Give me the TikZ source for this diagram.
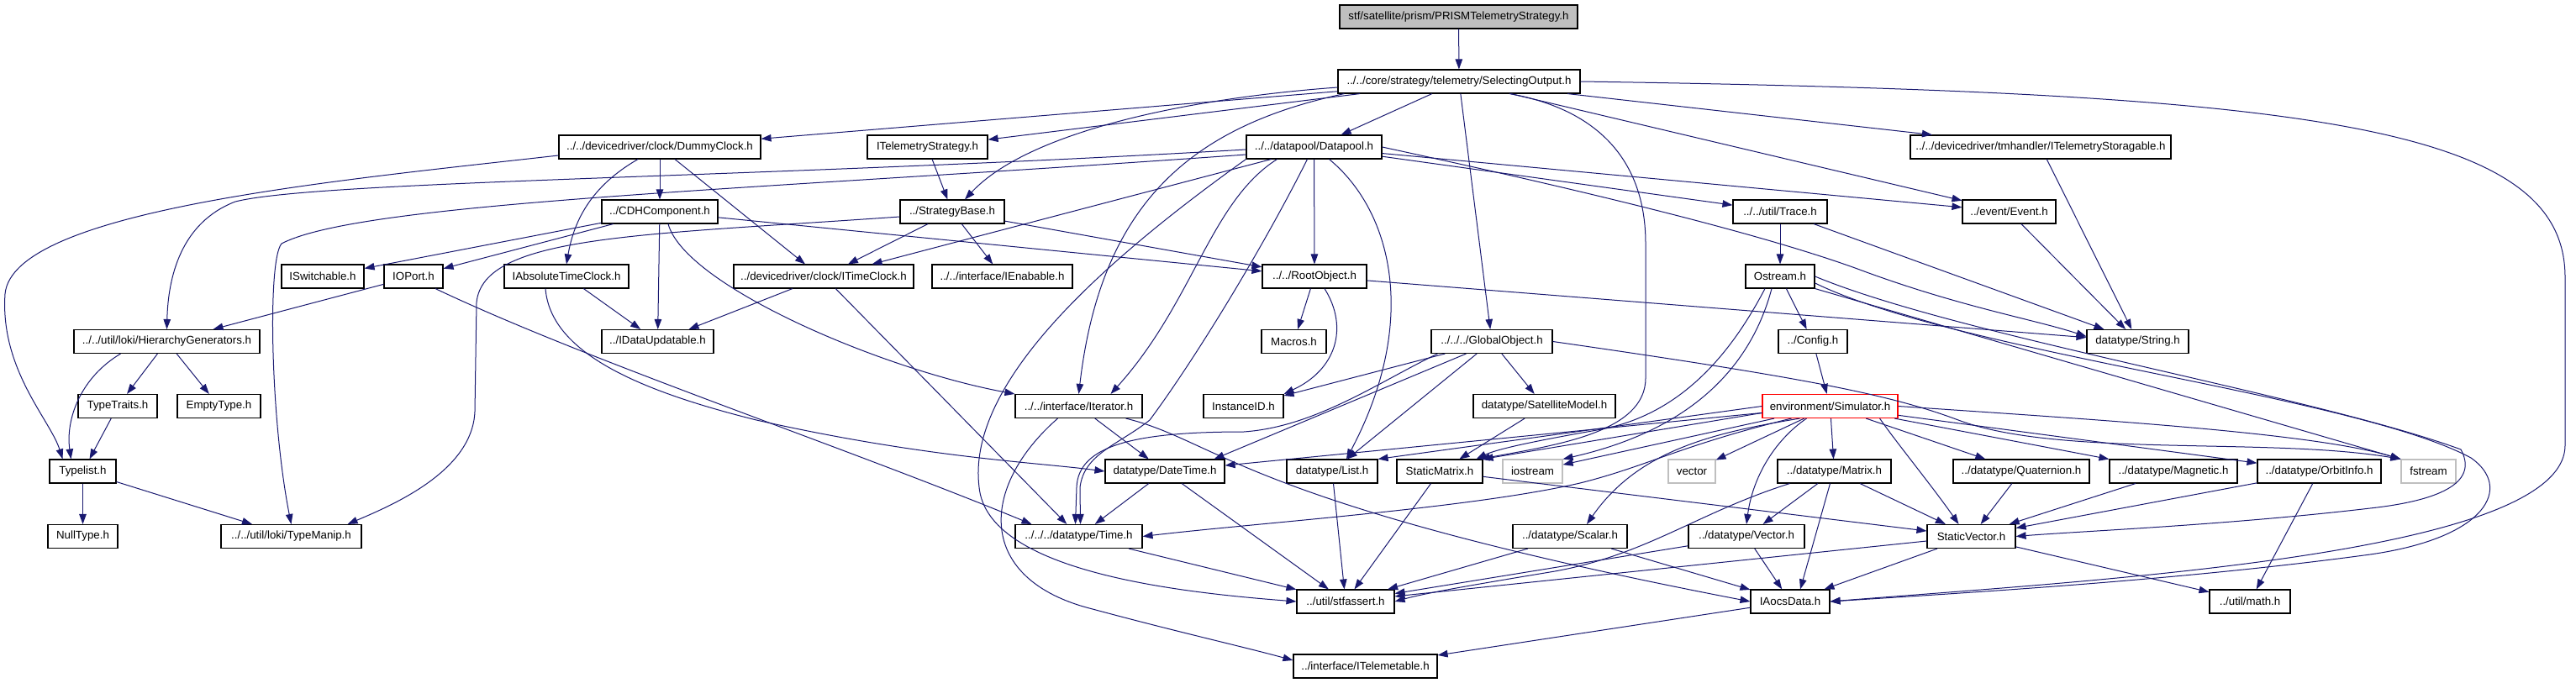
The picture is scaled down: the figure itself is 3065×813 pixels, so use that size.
\documentclass[tikz,border=0pt]{standalone}
\usepackage{fontspec}
\setmainfont{Liberation Sans}
\usetikzlibrary{arrows.meta,calc}
\definecolor{edgec}{HTML}{191970}
\definecolor{boxgray}{HTML}{BFBFBF}
\newcommand\nf{\fontsize{13.3}{16}\selectfont}
\begin{document}
\begin{tikzpicture}[x=1pt,y=-1pt,
  box/.style={draw=black,line width=1.1pt,fill=white,inner sep=0pt,minimum height=28pt,font=\nf},
  lnk/.style={draw=edgec,line width=1pt,-{Triangle[length=12pt,width=8.5pt]}}]
\fill[white] (0,0) rectangle (3065,813);
\useasboundingbox (0,0) rectangle (3065,813);
% row 0-1
\node[box,minimum width=283pt,fill=boxgray] (top) at (1735.5,20) {stf/satellite/prism/PRISMTelemetryStrategy.h};
\node[box,minimum width=288pt] (sel) at (1736,97) {../../core/strategy/telemetry/SelectingOutput.h};
% row 2
\node[box,minimum width=240pt] (dummy) at (785,175) {../../devicedriver/clock/DummyClock.h};
\node[box,minimum width=143pt] (itstrat) at (1103.5,175) {ITelemetryStrategy.h};
\node[box,minimum width=161pt] (datapool) at (1563.5,175) {../../datapool/Datapool.h};
\node[box,minimum width=310pt] (itstor) at (2428,175) {../../devicedriver/tmhandler/ITelemetryStoragable.h};
% row 3
\node[box,minimum width=138pt] (cdh) at (785,252) {../CDHComponent.h};
\node[box,minimum width=124pt] (strat) at (1133,252) {../StrategyBase.h};
\node[box,minimum width=112pt] (trace) at (2118,252) {../../util/Trace.h};
\node[box,minimum width=111pt] (event) at (2390.5,252) {../event/Event.h};
% row 4
\node[box,minimum width=98pt] (iswitch) at (384,329) {ISwitchable.h};
\node[box,minimum width=70pt] (ioport) at (492,329) {IOPort.h};
\node[box,minimum width=148pt] (iabs) at (674,329) {IAbsoluteTimeClock.h};
\node[box,minimum width=214pt] (itime) at (980,329) {../devicedriver/clock/ITimeClock.h};
\node[box,minimum width=167pt] (ienab) at (1192.5,329) {../../interface/IEnabable.h};
\node[box,minimum width=124pt] (root) at (1564,329) {../../RootObject.h};
\node[box,minimum width=82pt] (ostream) at (2118,329) {Ostream.h};
% row 5
\node[box,minimum width=221pt] (hier) at (198.5,406.5) {../../util/loki/HierarchyGenerators.h};
\node[box,minimum width=133pt] (idata) at (782.5,406.5) {../IDataUpdatable.h};
\node[box,minimum width=77pt] (macros) at (1539.5,406.5) {Macros.h};
\node[box,minimum width=144pt] (global) at (1775,406.5) {../../../GlobalObject.h};
\node[box,minimum width=82pt] (config) at (2157,406.5) {../Config.h};
\node[box,minimum width=121pt] (string) at (2543.5,406.5) {datatype/String.h};
% row 6
\node[box,minimum width=94pt] (ttraits) at (140,483.5) {TypeTraits.h};
\node[box,minimum width=99pt] (empty) at (260.5,483.5) {EmptyType.h};
\node[box,minimum width=151pt] (iter) at (1283.5,483.5) {../../interface/Iterator.h};
\node[box,minimum width=95pt] (instid) at (1479.5,483.5) {InstanceID.h};
\node[box,minimum width=169pt] (satmodel) at (1837.5,483.5) {datatype/SatelliteModel.h};
\node[box,minimum width=161pt,draw=red] (sim) at (2177.5,483.5) {environment/Simulator.h};
% row 7
\node[box,minimum width=79pt] (typelist) at (98.5,561) {Typelist.h};
\node[box,minimum width=142pt] (datetime) at (1386,561) {datatype/DateTime.h};
\node[box,minimum width=108pt] (list) at (1585,561) {datatype/List.h};
\node[box,minimum width=102pt] (smatrix) at (1713,561) {StaticMatrix.h};
\node[box,minimum width=71pt,draw=boxgray] (iostream) at (1823.5,561) {iostream};
\node[box,minimum width=56pt,draw=boxgray] (vector) at (2013,561) {vector};
\node[box,minimum width=135pt] (matrix) at (2182.5,561) {../datatype/Matrix.h};
\node[box,minimum width=162pt] (quat) at (2405,561) {../datatype/Quaternion.h};
\node[box,minimum width=152pt] (magn) at (2586,561) {../datatype/Magnetic.h};
\node[box,minimum width=147pt] (orbit) at (2759.5,561) {../datatype/OrbitInfo.h};
\node[box,minimum width=65pt,draw=boxgray] (fstream) at (2889.5,561) {fstream};
% row 8
\node[box,minimum width=83pt] (nulltype) at (98.5,638.5) {NullType.h};
\node[box,minimum width=167pt] (typemanip) at (346.5,638.5) {../../util/loki/TypeManip.h};
\node[box,minimum width=151pt] (time) at (1283.5,638.5) {../../../datatype/Time.h};
\node[box,minimum width=136pt] (scalar) at (1868,638.5) {../datatype/Scalar.h};
\node[box,minimum width=138pt] (vectorh) at (2078,638.5) {../datatype/Vector.h};
\node[box,minimum width=105pt] (svector) at (2345.5,638.5) {StaticVector.h};
% row 9-10
\node[box,minimum width=116pt] (stfassert) at (1601,716) {../util/stfassert.h};
\node[box,minimum width=94pt] (iaocs) at (2130,716) {IAocsData.h};
\node[box,minimum width=96pt] (math) at (2677,716) {../util/math.h};
\node[box,minimum width=171pt] (itlm) at (1624.5,793) {../interface/ITelemetable.h};

% ---- edges ----
\draw[lnk] (top) -- (sel);
% SelectingOutput
\draw[lnk] (sel) -- (dummy);
\draw[lnk] (sel) -- (itstrat);
\draw[lnk] ($(sel.west)+(0,7)$) .. controls (1400,118) and (1220,160) .. ($(strat.north)+(15,0)$);
\draw[lnk] (sel) -- (datapool);
\draw[lnk] (sel) -- (itstor);
\draw[lnk] (sel) -- (global);
\draw[lnk] (sel) -- (event);
\draw[lnk] (sel.east) .. controls (2750,110) and (3052,150) .. (3052,330) -- (3052,530) .. controls (3052,660) and (2500,690) .. (iaocs.east);
\draw[lnk] ($(sel.south west)+(8,0)$) .. controls (1420,150) and (1310,240) .. (iter.north);
\draw[lnk] ($(sel.south)+(60,0)$) .. controls (1900,130) and (1958,190) .. (1958,290) -- (1958,450) .. controls (1958,515) and (1850,530) .. ($(smatrix.north east)+(-4,0)$);
% Datapool
\draw[lnk] (datapool) -- (trace);
\draw[lnk] (datapool) -- (event);
\draw[lnk] (datapool.east) .. controls (1900,230) and (2100,280) .. (2210,320) .. controls (2330,365) and (2420,380) .. ($(string.west)+(0,-6)$);
\draw[lnk] (datapool) -- (root);
\draw[lnk] ($(datapool.south)+(18,0)$) .. controls (1655,250) and (1690,380) .. ($(list.north)+(17,0)$);
\draw[lnk] ($(datapool.south west)+(37,0)$) .. controls (1440,240) and (1420,360) .. ($(iter.north)+(38,0)$);
\draw[lnk] ($(datapool.south west)+(30,0)$) -- ($(itime.north east)+(-50,0)$);
\draw[lnk] (datapool.south west) .. controls (1300,320) and (1150,460) .. (1165,580) .. controls (1175,680) and (1400,705) .. (stfassert.west);
\draw[lnk] ($(datapool.south)+(-8,0)$) .. controls (1500,300) and (1420,430) .. (1368,500) .. controls (1330,530) and (1290,540) .. (1285,580) -- ($(time.north)+(2,0)$);
\draw[lnk] ($(datapool.west)+(0,3)$) .. controls (900,212) and (380,215) .. (280,240) .. controls (215,265) and (200,330) .. (hier.north);
\draw[lnk] ($(datapool.west)+(0,9)$) .. controls (900,226) and (430,240) .. (335,290) .. controls (318,310) and (322,500) .. (typemanip.north);
% DummyClock
\draw[lnk] (dummy) -- (cdh);
\draw[lnk] ($(dummy.south)+(-26,0)$) .. controls (715,215) and (685,250) .. (iabs.north);
\draw[lnk] ($(dummy.south)+(18,0)$) -- ($(itime.north)+(-22,0)$);
\draw[lnk] ($(dummy.west)+(0,10)$) .. controls (400,215) and (15,250) .. (6,350) .. controls (0,440) and (60,500) .. ($(typelist.north)+(-24,0)$);
% CDHComponent
\draw[lnk] (cdh) -- (iswitch);
\draw[lnk] (cdh) -- (ioport);
\draw[lnk] (cdh) -- (idata);
\draw[lnk] (cdh) -- (root);
\draw[lnk] ($(cdh.south)+(10,0)$) .. controls (815,340) and (1050,440) .. (iter.north west);
% StrategyBase
\draw[lnk] (itstrat) -- (strat);
\draw[lnk] (strat) -- (itime);
\draw[lnk] (strat) -- (ienab);
\draw[lnk] (strat) -- (root);
\draw[lnk] ($(strat.west)+(0,6)$) .. controls (760,280) and (575,280) .. (567,360) -- (565,490) .. controls (562,560) and (470,600) .. ($(typemanip.north east)+(-17,0)$);
% row 4 sources
\draw[lnk] (ioport) -- (hier);
\draw[lnk] ($(ioport.south)+(26,0)$) .. controls (700,430) and (1000,530) .. ($(time.north west)+(20,0)$);
\draw[lnk] (iabs) -- (idata);
\draw[lnk] ($(iabs.south)+(-25,0)$) .. controls (655,420) and (760,465) .. (900,500) .. controls (1100,545) and (1230,550) .. (datetime.west);
\draw[lnk] (itime) -- (idata);
\draw[lnk] (itime) -- (time);
\draw[lnk] (root) -- (macros);
\draw[lnk] ($(root.south)+(12,0)$) .. controls (1605,390) and (1590,440) .. (instid.north east);
\draw[lnk] (root) -- (string);
\draw[lnk] (trace) -- (ostream);
\draw[lnk] (trace) -- (string);
\draw[lnk] (event) -- (string);
\draw[lnk] (itstor) -- (string);
% Ostream
\draw[lnk] (ostream) -- (config);
\draw[lnk] ($(ostream.south)+(-18,0)$) .. controls (2060,420) and (2000,495) .. (1900,512) .. controls (1820,526) and (1780,535) .. ($(smatrix.north east)+(-8,0)$);
\draw[lnk] ($(ostream.south)+(-10,0)$) .. controls (2085,430) and (2020,510) .. (iostream.north east);
\draw[lnk] (ostream.south east) -- (fstream.north west);
\draw[lnk] (ostream.east) .. controls (2330,400) and (2750,470) .. (2928,535) .. controls (2948,572) and (2910,595) .. (2820,605) .. controls (2650,625) and (2480,632) .. (svector.east);
\draw[lnk] ($(ostream.east)+(0,8)$) .. controls (2330,420) and (2800,470) .. (2940,545) .. controls (2990,580) and (2960,640) .. (2820,660) .. controls (2600,690) and (2350,705) .. (iaocs.east);
% GlobalObject
\draw[lnk] (global) -- (instid);
\draw[lnk] (global) -- (satmodel);
\draw[lnk] (global) -- (list);
\draw[lnk] ($(global.south west)+(42,0)$) -- ($(datetime.north east)+(-13,0)$);
\draw[lnk] ($(global.south west)+(8,0)$) .. controls (1640,455) and (1565,508) .. (1480,514) .. controls (1350,514) and (1283,530) .. (1281,580) -- ($(time.north)+(-4,0)$);
\draw[lnk] (global.east) .. controls (2150,450) and (2250,470) .. (2330,500) .. controls (2450,545) and (2700,520) .. (fstream.north west);
\draw[lnk] (satmodel) -- (smatrix);
\draw[lnk] (config) -- (sim);
% Simulator
\draw[lnk] (sim) -- (datetime);
\draw[lnk] (sim.west) -- (list.north east);
\draw[lnk] ($(sim.west)+(0,8)$) -- (smatrix.north east);
\draw[lnk] (sim) -- (iostream);
\draw[lnk] (sim) -- (vector);
\draw[lnk] (sim) -- (matrix);
\draw[lnk] (sim) -- (quat);
\draw[lnk] (sim) -- (magn);
\draw[lnk] (sim) -- (orbit);
\draw[lnk] (sim.east) .. controls (2500,500) and (2750,515) .. (fstream.north west);
\draw[lnk] ($(sim.south west)+(45,0)$) .. controls (2040,515) and (1950,535) .. ($(scalar.north)+(20,0)$);
\draw[lnk] ($(sim.south west)+(35,0)$) .. controls (2000,530) and (1960,555) .. (1880,575) .. controls (1750,605) and (1500,622) .. (time.east);
\draw[lnk] ($(sim.south)+(-28,0)$) .. controls (2110,525) and (2085,570) .. (vectorh.north);
\draw[lnk] ($(sim.south east)+(-22,0)$) .. controls (2255,525) and (2300,580) .. ($(svector.north)+(-15,0)$);
% Matrix & co
\draw[lnk] (matrix) -- (vectorh);
\draw[lnk] (matrix) -- (svector);
\draw[lnk] ($(matrix.south)+(-5,0)$) -- ($(iaocs.north)+(12,0)$);
\draw[lnk] ($(matrix.south west)+(15,0)$) .. controls (2020,610) and (1960,660) .. (1850,680) .. controls (1760,695) and (1700,705) .. (stfassert.east);
\draw[lnk] (smatrix) -- (svector);
\draw[lnk] (smatrix) -- (stfassert);
\draw[lnk] (list) -- (stfassert);
\draw[lnk] (scalar) -- (stfassert);
\draw[lnk] (scalar) -- (iaocs);
\draw[lnk] (vectorh) -- (stfassert);
\draw[lnk] (vectorh) -- (iaocs);
\draw[lnk] (svector) -- (stfassert);
\draw[lnk] (svector) -- (iaocs);
\draw[lnk] (svector) -- (math);
\draw[lnk] (quat) -- (svector);
\draw[lnk] (magn) -- (svector);
\draw[lnk] (orbit) -- (svector);
\draw[lnk] (orbit) -- (math);
% Time / DateTime / Iterator
\draw[lnk] (time) -- (stfassert);
\draw[lnk] (datetime) -- (time);
\draw[lnk] (datetime) -- (stfassert);
\draw[lnk] (iter) -- (datetime);
\draw[lnk] ($(iter.south)+(-25,0)$) .. controls (1165,580) and (1160,690) .. (1300,725) .. controls (1400,752) and (1480,770) .. ($(itlm.west)+(0,-7)$);
\draw[lnk] ($(iter.south east)+(-20,0)$) .. controls (1450,525) and (1480,600) .. (iaocs.west);
\draw[lnk] (iaocs) -- (itlm);
% loki
\draw[lnk] ($(hier.south)+(-55,0)$) .. controls (95,450) and (78,500) .. ($(typelist.north)+(-14,0)$);
\draw[lnk] (hier) -- (ttraits);
\draw[lnk] (hier) -- (empty);
\draw[lnk] (ttraits) -- ($(typelist.north)+(8,0)$);
\draw[lnk] (typelist) -- (nulltype);
\draw[lnk] (typelist) -- (typemanip);
\end{tikzpicture}
\end{document}
